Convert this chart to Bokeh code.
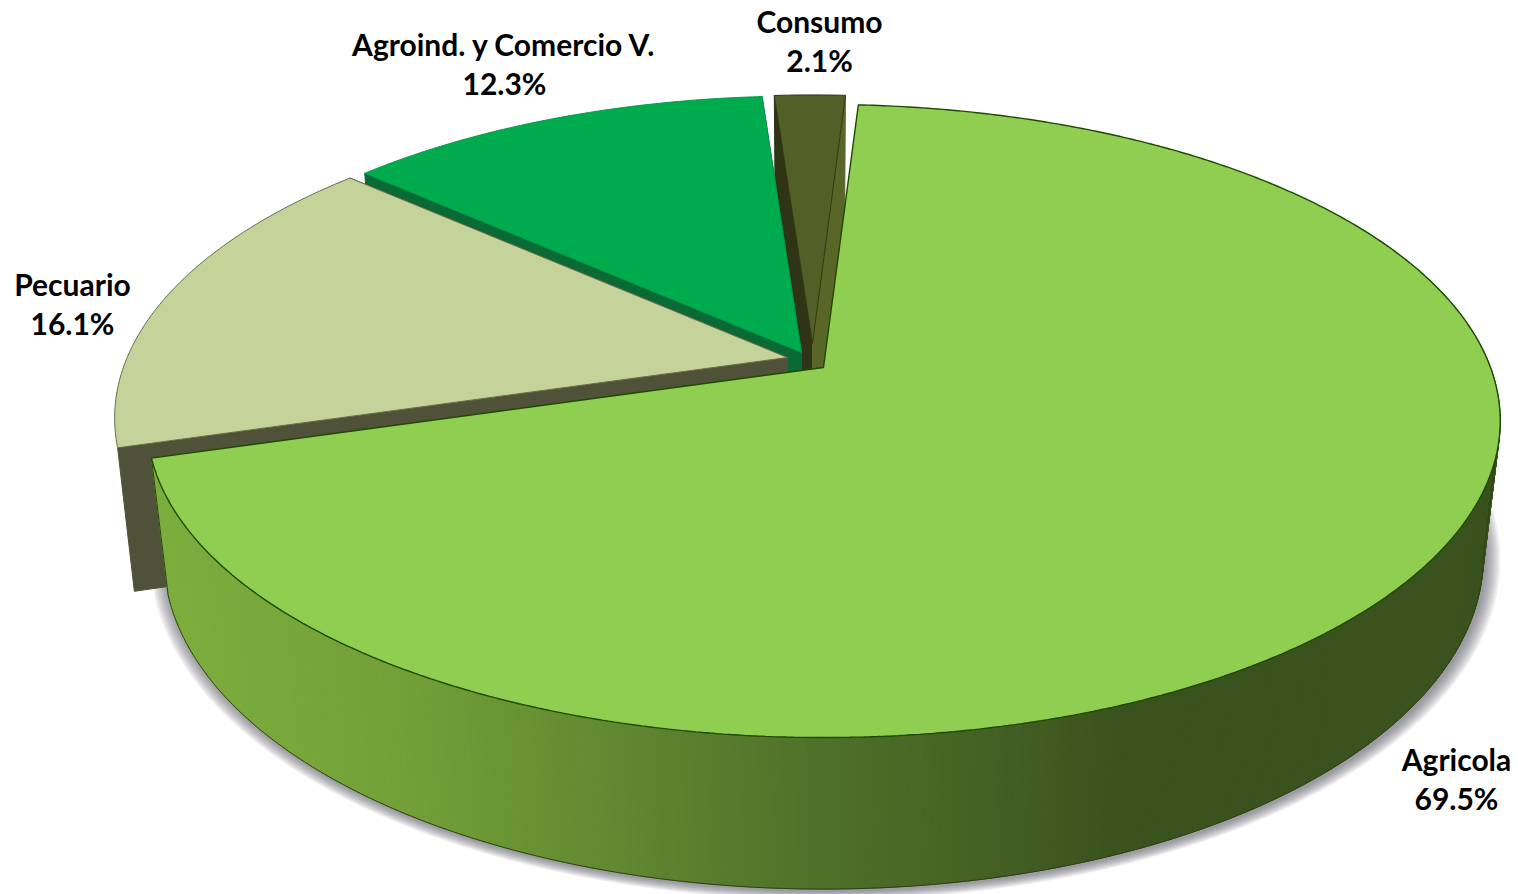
import math
from bokeh.plotting import figure
from bokeh.models import Range1d, ColumnDataSource
from bokeh.core.properties import value
from bokeh.embed import file_html
from bokeh.resources import INLINE

# data
categories = ["Agricola", "Pecuario", "Agroind. y Comercio V.", "Consumo"]
shares = [69.5, 16.1, 12.3, 2.1]

# styling / projection
top_colors = ["#8FCE51", "#C4D39A", "#00AB4E", "#525F26"]
left_wall = ["#7DB03F", "#4F5239", "#0A6A35", "#2F3416"]
right_wall = ["#7DB03F", "#4F5239", "#0A6A35", "#5A6528"]
edge_colors = ["#1E4A00", "#6B6B4A", "#00994A", "#33380F"]
apexes = [(823, 367), (787, 357), (801, 352), (812, 343)]
radii = [1.0, 0.99, 0.975, 0.945]
drops = [133, 139, 133, 133]
persp = [0.169, 0.192, 0.169, 0.169]
START = 3.5
R, S = 667.0, 307.5
SX, SY = 0.975, 1.05
wall_stops = [(150, (125, 175, 62)), (400, (115, 160, 56)), (600, (98, 138, 50)),
              (800, (80, 114, 42)), (1000, (68, 95, 35)), (1120, (58, 82, 30)), (1500, (58, 82, 30))]

p = figure(width=1518, height=894, x_range=Range1d(0, 1518), y_range=Range1d(894, 0),
           output_backend="svg", toolbar_location=None, min_border=0)
p.axis.visible = False
p.grid.visible = False
p.outline_line_color = None
p.background_fill_color = "white"


def top(t, i):
    a = math.radians(t)
    u, v = math.sin(a), math.cos(a)
    w = 1 + persp[i] * v
    ax, ay = apexes[i]
    return ax + radii[i] * R * u / w, ay - radii[i] * S * v / w


def bottom(t, i, f=1.0, ox=0.0, oy=0.0):
    a = math.radians(t)
    u, v = math.sin(a), math.cos(a)
    w = 1 + persp[i] * v
    ax, ay = apexes[i]
    return (ax + f * radii[i] * R * SX * u / w + ox,
            ay + drops[i] - f * radii[i] * S * SY * v / w + oy)


def arc(fn, t0, t1, i, step=0.5):
    n = max(2, int(abs(t1 - t0) / step) + 1)
    return [fn(t0 + (t1 - t0) * j / (n - 1), i) for j in range(n)]


def wall_color(x):
    for (x0, c0), (x1, c1) in zip(wall_stops, wall_stops[1:]):
        if x <= x1:
            f = max(0.0, (x - x0) / (x1 - x0))
            return "#%02x%02x%02x" % tuple(round(a + (b - a) * f) for a, b in zip(c0, c1))
    return "#%02x%02x%02x" % wall_stops[-1][1]


# angular extent of each slice, clockwise from 12 o'clock
spans = []
t = START
for s in shares:
    spans.append((t, t + s * 3.6))
    t += s * 3.6

# soft shadow under the main slice
for n in range(9):
    f = 1.002 + n * 0.0026
    pts = [bottom(q, 0, f, 2, 2) for q in range(0, 360, 2)]
    p.patch([a for a, _ in pts], [b for _, b in pts], fill_color="#50505F",
            fill_alpha=0.085, line_color=None)

# paint back to front
for i in [3, 2, 1]:
    t0, t1 = spans[i]
    ax, ay = apexes[i]
    tl, tr = top(t1, i), top(t0, i)
    bl, br = bottom(t1, i), bottom(t0, i)
    ab = (ax, ay + drops[i])
    p.patch([tr[0], br[0], ab[0], ax], [tr[1], br[1], ab[1], ay],
            fill_color=left_wall[i], line_color=left_wall[i])
    p.patch([tl[0], bl[0], ab[0], ax], [tl[1], bl[1], ab[1], ay],
            fill_color=right_wall[i], line_color=right_wall[i])
    pts = arc(top, t0, t1, i)
    p.patch([ax] + [a for a, _ in pts], [ay] + [b for _, b in pts],
            fill_color=top_colors[i], line_color=edge_colors[i], line_width=1)

# main slice: shaded outer wall, then top
t0, t1 = spans[0]
xs, ys, cols = [], [], []
q = 60.0
while q < t1:
    q2 = min(q + 0.6, t1)
    a, b = top(q, 0), top(q2, 0)
    c, d = bottom(q2, 0), bottom(q, 0)
    xs.append([a[0], b[0], c[0], d[0]])
    ys.append([a[1], b[1], c[1], d[1]])
    cols.append(wall_color((a[0] + c[0]) / 2))
    q = q2
src = ColumnDataSource(dict(xs=xs, ys=ys, c=cols))
p.patches("xs", "ys", source=src, fill_color="c", line_color="c", line_width=1)
widest = math.degrees(math.acos(-persp[0]))
pts = [top(widest, 0)] + arc(bottom, widest, t1, 0) + [top(t1, 0)]
p.line([a for a, _ in pts], [b for _, b in pts], line_color="#2F420F", line_width=1)
pts = arc(top, t0, t1, 0)
ax, ay = apexes[0]
p.patch([ax] + [a for a, _ in pts], [ay] + [b for _, b in pts],
        fill_color=top_colors[0], line_color=edge_colors[0], line_width=1.4)

# labels
label_x = [1456, 72, 504, 819]
label_y = [758, 283, 43, 20]
for name, s, x, y in zip(categories, shares, label_x, label_y):
    p.text([x, x], [y, y + 39], text=[name, f"{s:.1f}%"], text_font=value("Lato"),
           text_font_style="bold", text_font_size="30px", text_color="#000000",
           text_align="center", text_baseline="middle")

open("out.html", "w").write(file_html(p, INLINE))
